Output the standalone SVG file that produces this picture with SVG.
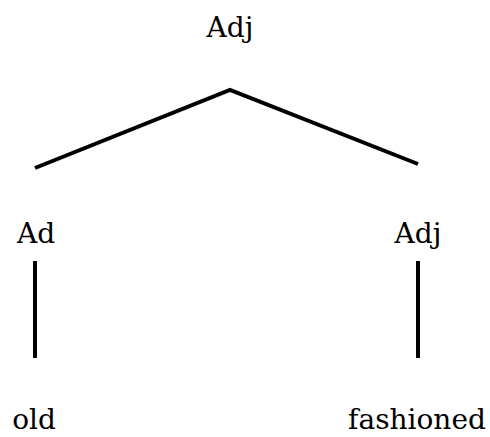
<svg xmlns="http://www.w3.org/2000/svg" width="490" height="437" viewBox="0 0 490 437">
  <style>
    .lbl { font-family: "DejaVu Serif", "Liberation Serif", serif; font-size: 28px; fill: #000; text-anchor: middle; }
    .edge { stroke: #000; stroke-width: 4; fill: none; stroke-linecap: butt; }
  </style>
  <rect width="490" height="437" fill="#fff"/>
  <g id="connectors">
    <polyline class="edge" points="35,168 230,90 418,164"/>
    <line class="edge" x1="35" y1="261" x2="35" y2="358" stroke-width="5"/>
    <line class="edge" x1="418" y1="261" x2="418" y2="358" stroke-width="5"/>
  </g>
  <g id="root"><text class="lbl" x="230" y="37">Adj</text></g>
  <g id="ad"><text class="lbl" x="36" y="243">Ad</text></g>
  <g id="adj"><text class="lbl" x="418" y="243">Adj</text></g>
  <g id="old"><text class="lbl" x="34" y="429">old</text></g>
  <g id="fashioned"><text class="lbl" x="417" y="429">fashioned</text></g>
</svg>
